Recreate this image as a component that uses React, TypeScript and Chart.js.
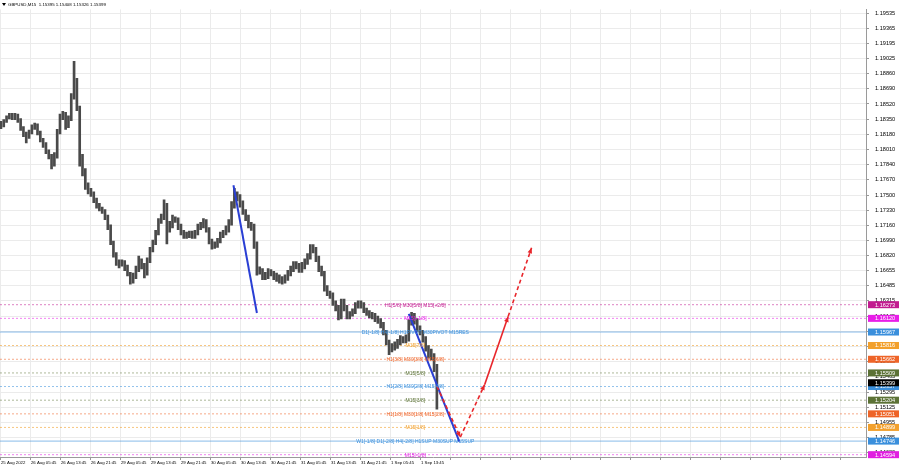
import React, { useEffect, useRef } from "react";
import { Chart, registerables } from "chart.js";
Chart.register(...registerables);

const headerText = "GBPUSD,M15  1.15395 1.15408 1.15326 1.15399";

const timeLabels = [
  "25 Aug 2022", "26 Aug 05:45", "26 Aug 13:45", "26 Aug 21:45", "29 Aug 05:45",
  "29 Aug 13:45", "29 Aug 21:45", "30 Aug 05:45", "30 Aug 13:45", "30 Aug 21:45",
  "31 Aug 05:45", "31 Aug 13:45", "31 Aug 21:45", "1 Sep 05:45", "1 Sep 13:45",
];
const timeTickBars = [0, 32, 64, 96, 128, 160, 192, 224, 256, 288, 320, 352, 384, 416, 448];
const gridOnlyBars = [480, 512, 544, 576, 608, 640, 672, 704, 736, 768, 800, 832, 864, 896];

const yTickLabels = [
  "1.19535", "1.19365", "1.19195", "1.19025", "1.18860", "1.18690", "1.18520", "1.18350",
  "1.18180", "1.18010", "1.17840", "1.17670", "1.17500", "1.17330", "1.17160", "1.16990",
  "1.16820", "1.16655", "1.16485", "1.16315", "1.16145", "1.15975", "1.15805", "1.15635",
  "1.15465", "1.15295", "1.15125", "1.14955", "1.14785", "1.14620",
];

const barIdx = [
  0, 3, 6, 9, 12, 15, 18, 21, 24, 27, 30, 33, 36, 39, 42, 45, 48, 51, 54, 57,
  60, 63, 66, 69, 72, 75, 78, 81, 84, 87, 90, 93, 96, 99, 102, 105, 108, 111, 114, 117,
  120, 123, 126, 129, 132, 135, 138, 141, 144, 147, 150, 153, 156, 159, 162, 165, 168, 171, 174, 177,
  180, 183, 186, 189, 192, 195, 198, 201, 204, 207, 210, 213, 216, 219, 222, 225, 228, 231, 234, 237,
  240, 243, 246, 249, 252, 255, 258, 261, 264, 267, 270, 273, 276, 279, 282, 285, 288, 291, 294, 297,
  300, 303, 306, 309, 312, 315, 318, 321, 324, 327, 330, 333, 336, 339, 342, 345, 348, 351, 354, 357,
  360, 363, 366, 369, 372, 375, 378, 381, 384, 387, 390, 393, 396, 399, 402, 405, 408, 411, 414, 417,
  420, 423, 426, 429, 432, 435, 438, 441, 444, 447, 450, 453, 456, 459, 462, 465,
];

const highs = [
  1.1833, 1.1835, 1.1839, 1.1842, 1.1842, 1.1842, 1.1841, 1.1836, 1.1827, 1.1821,
  1.1823, 1.1829, 1.1831, 1.1830, 1.1822, 1.1814, 1.1809, 1.1801, 1.1796, 1.1798,
  1.1824, 1.1841, 1.1844, 1.1843, 1.1839, 1.1864, 1.1900, 1.1881, 1.1850, 1.1796,
  1.1780, 1.1764, 1.1758, 1.1754, 1.1747, 1.1741, 1.1737, 1.1734, 1.1728, 1.1717,
  1.1699, 1.1686, 1.1678, 1.1678, 1.1677, 1.1672, 1.1664, 1.1663, 1.1671, 1.1682,
  1.1679, 1.1674, 1.1680, 1.1692, 1.1700, 1.1711, 1.1724, 1.1729, 1.1745, 1.1741,
  1.1721, 1.1728, 1.1726, 1.1725, 1.1718, 1.1711, 1.1709, 1.1710, 1.1710, 1.1711,
  1.1718, 1.1720, 1.1724, 1.1723, 1.1714, 1.1701, 1.1698, 1.1702, 1.1709, 1.1711,
  1.1716, 1.1723, 1.1743, 1.1758, 1.1754, 1.1751, 1.1744, 1.1734, 1.1728, 1.1720,
  1.1718, 1.1698, 1.1670, 1.1668, 1.1664, 1.1668, 1.1667, 1.1665, 1.1663, 1.1661,
  1.1659, 1.1661, 1.1666, 1.1671, 1.1676, 1.1676, 1.1674, 1.1675, 1.1679, 1.1685,
  1.1695, 1.1695, 1.1692, 1.1682, 1.1671, 1.1665, 1.1649, 1.1643, 1.1641, 1.1632,
  1.1627, 1.1634, 1.1634, 1.1627, 1.1620, 1.1623, 1.1630, 1.1632, 1.1632, 1.1630,
  1.1624, 1.1621, 1.1619, 1.1618, 1.1615, 1.1612, 1.1608, 1.1599, 1.1588, 1.1584,
  1.1586, 1.1589, 1.1593, 1.1592, 1.1594, 1.1611, 1.1619, 1.1618, 1.1612, 1.1604,
  1.1599, 1.1592, 1.1582, 1.1578, 1.1573, 1.1561,
];

const lows = [
  1.1824, 1.1826, 1.1831, 1.1835, 1.1834, 1.1834, 1.1831, 1.1822, 1.1815, 1.1808,
  1.1813, 1.1818, 1.1823, 1.1817, 1.1809, 1.1803, 1.1796, 1.1790, 1.1779, 1.1782,
  1.1791, 1.1818, 1.1834, 1.1823, 1.1825, 1.1833, 1.1857, 1.1844, 1.1782, 1.1771,
  1.1756, 1.1751, 1.1748, 1.1741, 1.1735, 1.1732, 1.1729, 1.1722, 1.1711, 1.1694,
  1.1680, 1.1671, 1.1668, 1.1670, 1.1665, 1.1659, 1.1650, 1.1651, 1.1656, 1.1664,
  1.1667, 1.1657, 1.1660, 1.1674, 1.1686, 1.1694, 1.1705, 1.1718, 1.1722, 1.1695,
  1.1708, 1.1713, 1.1719, 1.1711, 1.1705, 1.1701, 1.1701, 1.1702, 1.1701, 1.1701,
  1.1705, 1.1711, 1.1713, 1.1708, 1.1695, 1.1689, 1.1690, 1.1691, 1.1696, 1.1702,
  1.1705, 1.1708, 1.1716, 1.1735, 1.1743, 1.1736, 1.1728, 1.1721, 1.1713, 1.1710,
  1.1690, 1.1660, 1.1661, 1.1655, 1.1655, 1.1656, 1.1659, 1.1655, 1.1653, 1.1651,
  1.1650, 1.1651, 1.1654, 1.1659, 1.1664, 1.1667, 1.1663, 1.1663, 1.1667, 1.1672,
  1.1678, 1.1685, 1.1675, 1.1664, 1.1659, 1.1642, 1.1637, 1.1634, 1.1626, 1.1620,
  1.1610, 1.1611, 1.1620, 1.1611, 1.1611, 1.1614, 1.1617, 1.1623, 1.1623, 1.1618,
  1.1615, 1.1612, 1.1611, 1.1608, 1.1606, 1.1601, 1.1593, 1.1582, 1.1571, 1.1574,
  1.1576, 1.1578, 1.1582, 1.1584, 1.1584, 1.1586, 1.1604, 1.1605, 1.1597, 1.1593,
  1.1585, 1.1575, 1.1567, 1.1565, 1.1552, 1.1510,
];

const bidPrice = 1.15399;

const levelPrices = [
  1.16273, 1.1612, 1.15967, 1.15816, 1.15662, 1.15509,
  1.15357, 1.15204, 1.15051, 1.14899, 1.14746, 1.14594,
];
const levelTexts = [
  "H1[5/8] M30[5/8] M15[+2/8]",
  "M15[+1/8]",
  "D1[-1/8] H4[-1/8] H1PIVOT M30PIVOT M15RES",
  "M15[7/8]",
  "H1[3/8] M30[3/8] M15[6/8]",
  "M15[5/8]",
  "H1[2/8] M30[2/8] M15[4/8]",
  "M15[3/8]",
  "H1[1/8] M30[1/8] M15[2/8]",
  "M15[1/8]",
  "W1[-1/8] D1[-2/8] H4[-2/8] H1SUP M30SUP M15SUP",
  "M15[-1/8]",
];
const levelColors = [
  "#c21b8f", "#e81ee8", "#3a8fdc", "#f2a02c", "#ee6428", "#5c7236",
  "#3a8fdc", "#5c7236", "#ee6428", "#f2a02c", "#3a8fdc", "#e01ee0",
];
const levelLineColors = [
  "rgba(194,27,143,0.55)", "rgba(232,30,232,0.55)", "rgba(58,143,220,0.6)", "rgba(242,160,44,0.6)",
  "rgba(238,100,40,0.55)", "rgba(92,114,54,0.5)", "rgba(58,143,220,0.55)", "rgba(92,114,54,0.5)",
  "rgba(238,100,40,0.55)", "rgba(242,160,44,0.6)", "rgba(58,143,220,0.6)", "rgba(224,30,224,0.55)",
];
const levelSolid = [false, false, true, false, false, false, false, false, false, false, true, false];
const levelLabelBar = 442;

const blueLineA = [{ bar: 248, price: 1.1761 }, { bar: 273, price: 1.1618 }];
const blueLineB = [{ bar: 435, price: 1.1617 }, { bar: 489, price: 1.1474 }];

const redPath = [
  { bar: 465, price: 1.1536 },
  { bar: 490, price: 1.1479 },
  { bar: 516, price: 1.1538 },
  { bar: 541, price: 1.1614 },
  { bar: 566, price: 1.1691 },
];
const redDashed = [true, true, false, true];

const Y_MIN = 1.14568;
const Y_MAX = 1.19579;
const X_MIN = -1;
const X_MAX = 922.7;
const FONT = "'Liberation Sans', Arial, sans-serif";

export default function App() {
  const ref = useRef<HTMLCanvasElement>(null);

  useEffect(() => {
    document.body.style.margin = "0";
    const canvas = ref.current;
    if (!canvas) return;

    const priceBars = barIdx.map((b, i) => ({ x: b, y: [lows[i], highs[i]] }));

    const levelDatasets = levelPrices.map((p, i) => ({
      type: "line" as const,
      data: [{ x: X_MIN, y: p }, { x: X_MAX, y: p }],
      borderColor: levelLineColors[i],
      borderWidth: 1,
      borderDash: levelSolid[i] ? [] : [2, 2],
      pointRadius: 0,
      order: 5,
    }));

    const blueDatasets = [blueLineA, blueLineB].map((seg) => ({
      type: "line" as const,
      data: seg.map((s) => ({ x: s.bar, y: s.price })),
      borderColor: "#2a3fd4",
      borderWidth: 2,
      pointRadius: 0,
      order: 1,
    }));

    const redDatasets = redDashed.map((dashed, i) => ({
      type: "line" as const,
      data: [
        { x: redPath[i].bar, y: redPath[i].price },
        { x: redPath[i + 1].bar, y: redPath[i + 1].price },
      ],
      borderColor: "#e8262b",
      borderWidth: 1.6,
      borderDash: dashed ? [4, 3] : [],
      pointRadius: 0,
      order: 0,
    }));

    const arrow = (ctx: CanvasRenderingContext2D, x1: number, y1: number, x2: number, y2: number) => {
      const a = Math.atan2(y2 - y1, x2 - x1);
      const s = 6;
      ctx.beginPath();
      ctx.moveTo(x2, y2);
      ctx.lineTo(x2 - s * Math.cos(a - 0.4), y2 - s * Math.sin(a - 0.4));
      ctx.lineTo(x2 - s * Math.cos(a + 0.4), y2 - s * Math.sin(a + 0.4));
      ctx.closePath();
      ctx.fill();
    };

    const overlay = {
      id: "overlay",
      afterDatasetsDraw(chart: any) {
        const ctx = chart.ctx as CanvasRenderingContext2D;
        const xs = chart.scales.x;
        const ys = chart.scales.y;
        ctx.save();
        ctx.font = `5px ${FONT}`;
        ctx.textAlign = "center";
        ctx.textBaseline = "middle";
        levelPrices.forEach((p, i) => {
          ctx.fillStyle = levelColors[i];
          ctx.fillText(levelTexts[i], xs.getPixelForValue(levelLabelBar), ys.getPixelForValue(p) + 0.5);
        });
        ctx.fillStyle = "#e8262b";
        for (let i = 0; i < redPath.length - 1; i++) {
          arrow(
            ctx,
            xs.getPixelForValue(redPath[i].bar), ys.getPixelForValue(redPath[i].price),
            xs.getPixelForValue(redPath[i + 1].bar), ys.getPixelForValue(redPath[i + 1].price),
          );
        }
        ctx.restore();
      },
      afterDraw(chart: any) {
        const ctx = chart.ctx as CanvasRenderingContext2D;
        const ys = chart.scales.y;
        const area = chart.chartArea;
        ctx.save();
        const boxes = levelPrices.map((p, i) => ({ p, color: levelColors[i] }));
        boxes.push({ p: bidPrice, color: "#000000" });
        ctx.font = `5.6px ${FONT}`;
        ctx.textAlign = "left";
        ctx.textBaseline = "middle";
        boxes.forEach((b) => {
          const y = ys.getPixelForValue(b.p);
          ctx.fillStyle = b.color;
          ctx.fillRect(area.right + 2, y - 3.5, 31, 7);
          ctx.fillStyle = "#ffffff";
          ctx.fillText(b.p.toFixed(5), area.right + 9, y + 0.3);
        });
        ctx.fillStyle = "#000";
        ctx.beginPath();
        ctx.moveTo(2, 3);
        ctx.lineTo(6, 3);
        ctx.lineTo(4, 6);
        ctx.closePath();
        ctx.fill();
        ctx.font = `4.4px ${FONT}`;
        ctx.fillText(headerText, 8, 5);
        ctx.restore();
      },
    };

    const chart = new Chart(canvas, {
      type: "bar",
      data: {
        datasets: [
          {
            type: "bar",
            data: priceBars as any,
            backgroundColor: "#4a4a4a",
            barPercentage: 0.95,
            categoryPercentage: 1,
            order: 2,
          } as any,
          ...levelDatasets,
          ...blueDatasets,
          ...redDatasets,
        ] as any,
      },
      options: {
        responsive: false,
        maintainAspectRatio: false,
        animation: false,
        devicePixelRatio: 1,
        layout: { padding: 0 },
        plugins: { legend: { display: false }, tooltip: { enabled: false } },
        scales: {
          x: {
            type: "linear",
            min: X_MIN,
            max: X_MAX,
            offset: false,
            grid: { offset: false, color: "#ebebeb", lineWidth: 1, tickLength: 3, tickColor: "#999" },
            border: { color: "#9a9a9a" },
            ticks: {
              autoSkip: false,
              maxRotation: 0,
              align: "start",
              padding: 0,
              color: "#000",
              font: { size: 4.3, family: FONT },
              callback: (_v: any, i: number) => timeLabels[i] ?? "",
            },
            afterBuildTicks: (s: any) => {
              s.ticks = [...timeTickBars, ...gridOnlyBars].map((v) => ({ value: v }));
            },
            afterFit: (s: any) => {
              s.height = 11;
            },
          },
          y: {
            position: "right",
            min: Y_MIN,
            max: Y_MAX,
            grid: { color: "#ebebeb", lineWidth: 1, tickLength: 3, tickColor: "#999" },
            border: { color: "#9a9a9a" },
            ticks: {
              autoSkip: false,
              padding: 6,
              crossAlign: "near",
              color: "#000",
              font: { size: 5.6, family: FONT },
              callback: (_v: any, i: number) => yTickLabels[i] ?? "",
            },
            afterBuildTicks: (s: any) => {
              s.ticks = yTickLabels.map((t) => ({ value: parseFloat(t) }));
            },
            afterFit: (s: any) => {
              s.width = 34;
            },
          },
        },
      } as any,
      plugins: [overlay],
    });

    return () => chart.destroy();
  }, []);

  return (
    <div style={{ width: 900, height: 468 }}>
      <canvas ref={ref} width={900} height={468} style={{ display: "block" }} />
    </div>
  );
}
